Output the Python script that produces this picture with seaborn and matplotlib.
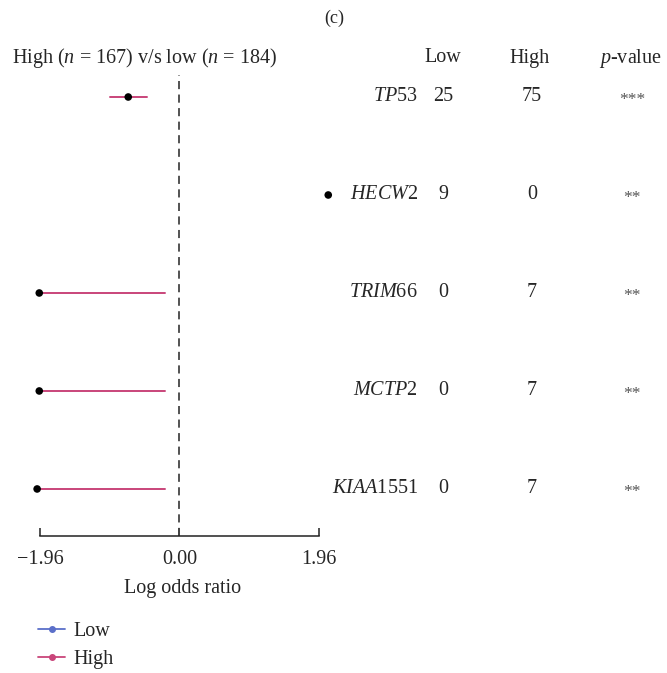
import numpy as np
import pandas as pd
import matplotlib
matplotlib.use("Agg")
import matplotlib.pyplot as plt
import matplotlib.transforms as mtrans
from matplotlib.lines import Line2D
import seaborn as sns

genes = ["TP", "HECW", "TRIM", "MCTP", "KIAA"]
gene_nums = ["53", "2", "66", "2", "1551"]
log_or = [-0.72, 2.09, -1.97, -1.97, -2.00]
ci_low = [-0.97, np.nan, -1.97, -1.97, -2.00]
ci_high = [-0.46, np.nan, -0.21, -0.21, -0.21]
low_counts = ["25", "9", "0", "0", "0"]
high_counts = ["75", "0", "7", "7", "7"]
pvals = ["***", "**", "**", "**", "**"]
ticks = [-1.96, 0.0, 1.96]
tick_labels = ["\u22121.96", "0.00", "1.96"]

sns.set_theme(style="white")
plt.rcParams["font.family"] = ["Liberation Serif", "DejaVu Serif"]
plt.rcParams["mathtext.fontset"] = "custom"
plt.rcParams["mathtext.it"] = "Liberation Serif:italic"
plt.rcParams["mathtext.rm"] = "Liberation Serif"

W, H = 667, 673
fig = plt.figure(figsize=(W / 100, H / 100), dpi=100)

high_col = "#c9457a"
low_col = "#5b6fc9"

# axes geometry (pixels)
ax_left, ax_right = 22.9, 343.2
ax_top, ax_bot = 75, 536
ax = fig.add_axes([ax_left / W, 1 - ax_bot / H, (ax_right - ax_left) / W, (ax_bot - ax_top) / H])
ax.set_xlim(-2.2, 2.3)
ax.set_ylim(4.48, -0.2245)

df = pd.DataFrame({"row": np.arange(len(genes)), "lor": log_or, "lo": ci_low, "hi": ci_high})

ax.axvline(0, color="#444444", lw=1.3, ls=(0, (4.5, 3)), zorder=1)
for _, r in df.iterrows():
    if not np.isnan(r["lo"]):
        ax.plot([r["lo"], r["hi"]], [r["row"], r["row"]], color=high_col, lw=1.4, zorder=2, clip_on=False)
sns.scatterplot(data=df, x="lor", y="row", color="black", s=30, edgecolor="none", zorder=3, ax=ax, clip_on=False, legend=False)

for s in ["top", "right", "left"]:
    ax.spines[s].set_visible(False)
ax.spines["bottom"].set_bounds(-1.96, 1.96)
ax.spines["bottom"].set_color("#222222")
ax.spines["bottom"].set_linewidth(1.1)
ax.set_yticks([])
ax.set_xticks(ticks)
ax.set_xticklabels(tick_labels)
fs = 14.5
ax.tick_params(axis="x", direction="in", length=6, width=1.1, color="#222222", labelsize=fs, pad=10, bottom=True)
ax.set_xlabel("Log odds ratio", fontsize=fs, labelpad=7)
ax.set_ylabel("")
ax.grid(False)

tr = mtrans.blended_transform_factory(fig.transFigure, ax.transData)
for i in range(len(genes)):
    ax.text(418 / W, i, "$\\mathit{%s}$%s" % (genes[i], gene_nums[i]), transform=tr, ha="right", va="center", fontsize=fs)
    ax.text(443 / W, i, low_counts[i], transform=tr, ha="center", va="center", fontsize=fs)
    ax.text(532 / W, i, high_counts[i], transform=tr, ha="center", va="center", fontsize=fs)
    ax.text(632 / W, i + 0.03, pvals[i], transform=tr, ha="center", va="center", fontsize=12.5, color="#555555")

hy = 1 - 58 / H
fig.text(12 / W, hy, "High ($n$ = 167) v/s low ($n$ = 184)", ha="left", va="center", fontsize=fs)
fig.text(443 / W, hy, "Low", ha="center", va="center", fontsize=fs)
fig.text(530 / W, hy, "High", ha="center", va="center", fontsize=fs)
fig.text(630 / W, hy, "$p$-value", ha="center", va="center", fontsize=fs)
fig.text(334 / W, 1 - 18 / H, "(c)", ha="center", va="center", fontsize=13)

handles = [Line2D([0], [0], color=low_col, lw=1.3, marker="o", markersize=4),
           Line2D([0], [0], color=high_col, lw=1.3, marker="o", markersize=4)]
fig.legend(handles, ["Low", "High"], loc="upper left", bbox_to_anchor=(38 / W, 1 - 622 / H),
           frameon=False, fontsize=fs, handlelength=1.35, handletextpad=0.4, labelspacing=0.42,
           borderpad=0, borderaxespad=0)

fig.savefig("out.png", dpi=100)
